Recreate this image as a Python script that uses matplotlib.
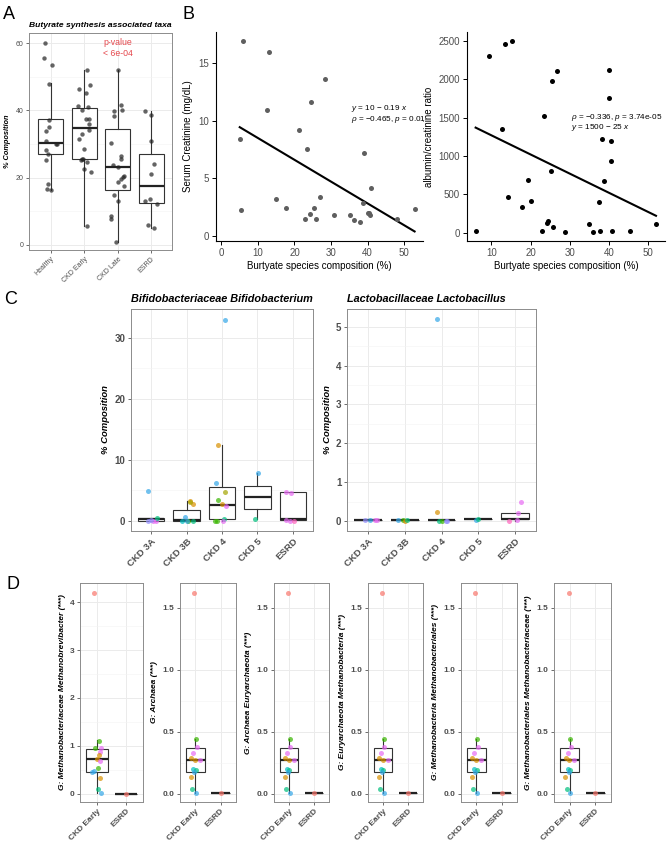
import matplotlib
matplotlib.use('Agg')
import matplotlib.pyplot as plt
from matplotlib.ticker import MultipleLocator
import numpy as np

plt.rcParams['font.family'] = ['Liberation Sans', 'DejaVu Sans']
plt.rcParams['mathtext.fontset'] = 'custom'
plt.rcParams['mathtext.rm'] = 'Liberation Sans'
plt.rcParams['mathtext.it'] = 'Liberation Sans:italic'

# ---------------- data ----------------
# panel A : butyrate taxa, % composition
a_groups = ['Healthy', 'CKD Early', 'CKD Late', 'ESRD']
a_vals = [
    [60.0, 55.5, 53.4, 47.9, 37.2, 35.0, 34.0, 30.8, 29.9, 30.1, 28.3, 27.1, 25.2, 18.1, 16.5, 16.2],
    [51.9, 46.5, 47.5, 45.3, 41.4, 41.0, 40.0, 37.5, 37.5, 36.0, 34.3, 33.0, 31.6, 28.6, 25.5, 25.3,
     25.5, 24.8, 22.5, 21.7, 5.5],
    [52.1, 41.6, 40.2, 39.8, 38.2, 30.4, 23.9, 23.1, 26.5, 25.4, 20.5, 20.1, 19.6, 18.8, 17.5, 14.9,
     13.1, 8.7, 7.6, 1.0],
    [39.9, 38.7, 30.8, 24.1, 21.0, 13.1, 13.7, 12.3, 5.9, 5.0],
]
a_jit = [
    [-0.17, -0.19, 0.05, -0.06, -0.05, -0.05, -0.14, -0.14, 0.15, 0.20, -0.14, -0.09, -0.14, -0.09, -0.12, 0.0],
    [0.07, -0.17, 0.17, 0.04, -0.19, 0.11, -0.08, 0.05, 0.13, 0.15, 0.15, -0.07, -0.16, -0.01, -0.07, -0.10,
     -0.04, 0.09, -0.02, 0.19, 0.09],
    [0.02, 0.11, 0.13, -0.12, -0.12, -0.19, -0.14, 0.0, 0.10, 0.10, 0.19, 0.15, 0.11, 0.0, 0.19, -0.12,
     0.0, -0.19, -0.19, -0.04],
    [-0.19, -0.02, 0.0, 0.08, 0.0, -0.18, -0.03, 0.17, -0.09, 0.08],
]
# box stats: low whisker, q1, median, q3, high whisker
a_box = [
    [16.2, 27.1, 30.3, 37.4, 48.0],
    [5.5, 25.5, 34.9, 40.7, 51.9],
    [1.0, 16.4, 23.1, 34.4, 52.1],
    [5.0, 12.4, 17.4, 27.0, 39.9],
]

# panel B : butyrate % vs serum creatinine
b1_x = [5.8, 13.1, 12.4, 5.0, 5.4, 15.0, 17.6, 21.2, 23.3, 24.5, 28.4, 22.8, 24.2, 25.3, 25.8, 26.9,
        30.8, 35.3, 36.4, 38.0, 38.7, 39.1, 40.2, 40.5, 40.8, 40.9, 48.1, 52.9]
b1_y = [16.87, 15.92, 10.88, 8.41, 2.27, 3.20, 2.45, 9.19, 7.57, 11.63, 13.59, 1.47, 1.93, 2.42, 1.53, 3.37,
        1.87, 1.84, 1.44, 1.24, 2.85, 7.17, 2.04, 1.99, 1.81, 4.18, 1.53, 2.39]
b1_fit = (10.37, -0.188)
# panel B : butyrate % vs albumin/creatinine ratio
b2_x = [6.0, 9.4, 13.6, 15.4, 12.8, 14.3, 17.8, 19.3, 20.0, 22.9, 23.5, 24.1, 24.4, 25.2, 25.5, 25.8,
        26.8, 28.7, 34.9, 35.9, 37.5, 37.7, 38.3, 38.7, 39.9, 39.9, 40.4, 40.5, 40.9, 45.3, 52.0]
b2_y = [17, 2309, 2457, 2500, 1357, 470, 335, 683, 409, 26, 1522, 126, 157, 800, 1978, 78,
        2109, 9, 109, 9, 396, 22, 1226, 678, 2117, 1757, 1200, 930, 17, 17, 117]
b2_fit = (1520, -25.0)

# palette for sample colours in C and D
pal = {'salmon': '#F8766D', 'orange': '#D89000', 'olive': '#A3A500', 'green': '#39B600',
       'teal': '#00BF7D', 'cyan': '#00BFC4', 'blue': '#35A7E8', 'purple': '#9590FF',
       'pink': '#E76BF3', 'magenta': '#FF62BC'}

c_groups = ['CKD 3A', 'CKD 3B', 'CKD 4', 'CKD 5', 'ESRD']
# Bifidobacterium : (value, jitter, colour)
c1_pts = [
    [(4.96, -0.09, 'blue'), (0.0, -0.08, 'purple'), (0.05, 0.05, 'pink'), (0.0, 0.14, 'pink'),
     (0.45, 0.16, 'teal'), (0.1, 0.0, 'purple')],
    [(0.7, -0.04, 'blue'), (0.0, -0.12, 'cyan'), (3.3, 0.11, 'orange'), (2.8, 0.17, 'orange'),
     (3.1, 0.09, 'olive'), (0.0, 0.05, 'green'), (0.0, 0.17, 'teal'), (0.05, 0.0, 'blue')],
    [(33.0, 0.08, 'blue'), (12.4, -0.12, 'orange'), (6.2, -0.18, 'blue'), (4.8, 0.08, 'olive'),
     (3.5, -0.11, 'green'), (2.8, 0.01, 'orange'), (2.5, 0.11, 'pink'), (0.0, -0.20, 'green'),
     (0.0, -0.15, 'green'), (0.3, 0.06, 'teal'), (0.0, 0.04, 'pink')],
    [(7.8, 0.02, 'blue'), (0.27, -0.07, 'teal')],
    [(4.8, -0.19, 'pink'), (4.6, -0.06, 'pink'), (0.2, -0.19, 'pink'), (0.0, -0.08, 'pink'),
     (0.0, 0.02, 'magenta')],
]
c1_box = [
    [0.0, 0.05, 0.3, 0.55, 0.55],
    [0.0, 0.0, 0.1, 1.75, 3.2],
    [0.0, 0.27, 2.7, 5.5, 12.4],
    [0.27, 2.0, 3.9, 5.8, 7.8],
    [0.2, 0.2, 0.25, 4.8, 4.8],
]
# Lactobacillus
c2_pts = [
    [(0.02, -0.08, 'purple'), (0.02, 0.05, 'blue'), (0.02, 0.19, 'pink'), (0.02, 0.24, 'pink')],
    [(0.02, -0.18, 'blue'), (0.03, -0.06, 'green'), (0.0, 0.02, 'orange'), (0.02, 0.06, 'teal')],
    [(5.2, -0.11, 'blue'), (0.23, -0.12, 'orange'), (0.0, -0.06, 'teal'), (0.0, 0.0, 'green'),
     (0.0, 0.12, 'purple'), (0.0, 0.16, 'purple')],
    [(0.03, -0.05, 'blue'), (0.04, 0.0, 'teal')],
    [(0.48, 0.16, 'pink'), (0.2, 0.07, 'pink'), (0.0, -0.16, 'magenta'), (0.03, 0.05, 'pink')],
]
c2_box = [
    [0.02, 0.02, 0.02, 0.02, 0.02],
    [0.02, 0.02, 0.02, 0.02, 0.02],
    [0.02, 0.02, 0.02, 0.02, 0.02],
    [0.04, 0.04, 0.04, 0.04, 0.04],
    [0.0, 0.04, 0.05, 0.2, 0.2],
]

d_groups = ['CKD Early', 'ESRD']
d_titles = ['G: Methanobacteriaceae Methanobrevibacter (***)', 'G: Archaea (***)',
            'G: Archaea Euryarchaeota (***)', 'G: Euryarchaeota Methanobacteria (***)',
            'G: Methanobacteria Methanobacteriales (***)', 'G: Methanobacteriales Methanobacteriaceae (***)']
d1_pts = [(4.19, -0.11, 'salmon'), (1.11, 0.08, 'green'), (0.95, -0.08, 'green'), (0.95, 0.15, 'pink'),
          (0.88, 0.10, 'pink'), (0.81, 0.05, 'orange'), (0.72, 0.01, 'orange'), (0.69, 0.09, 'pink'),
          (0.54, 0.03, 'green'), (0.45, -0.18, 'blue'), (0.47, -0.10, 'blue'), (0.33, 0.11, 'orange'),
          (0.11, 0.04, 'teal'), (0.03, 0.15, 'blue')]
d1_box = [0.03, 0.45, 0.72, 0.93, 1.12]
d_pts = [(1.62, -0.04, 'salmon'), (0.44, 0.03, 'green'), (0.38, 0.05, 'pink'), (0.33, -0.07, 'pink'),
         (0.29, -0.15, 'orange'), (0.27, -0.01, 'orange'), (0.27, 0.19, 'pink'), (0.20, -0.07, 'cyan'),
         (0.19, 0.01, 'teal'), (0.18, -0.04, 'blue'), (0.14, -0.17, 'orange'), (0.04, -0.11, 'teal'),
         (0.01, 0.03, 'blue')]
d_box = [0.01, 0.18, 0.27, 0.37, 0.44]
d_esrd = (0.01, 0.0, 'salmon')
d_esrd_box = [0.01, 0.01, 0.01, 0.01, 0.01]

# ---------------- layout ----------------
W, H = 669, 844
fig = plt.figure(figsize=(W / 100, H / 100), dpi=100)


def px_axes(l, t, r, b):
    return fig.add_axes([l / W, 1 - b / H, (r - l) / W, (b - t) / H])


GRID = '#EBEBEB'
TXT = '#4D4D4D'


def bw_style(ax, tick_size, minor):
    ax.set_facecolor('white')
    for s in ax.spines.values():
        s.set_color('#8C8C8C')
        s.set_linewidth(0.7)
    ax.yaxis.set_minor_locator(MultipleLocator(minor))
    ax.grid(True, which='major', color=GRID, lw=0.7)
    ax.grid(True, which='minor', axis='y', color='#F3F3F3', lw=0.4)
    ax.set_axisbelow(True)
    ax.tick_params(which='major', length=2.5, width=0.6, color='#555555', labelsize=tick_size,
                   labelcolor=TXT, pad=1.5)
    ax.tick_params(which='minor', length=0)


def draw_box(ax, stats, width=0.75):
    bx = []
    for i, s in enumerate(stats):
        bx.append(dict(whislo=s[0], q1=s[1], med=s[2], q3=s[3], whishi=s[4], fliers=[]))
    ax.bxp(bx, positions=range(1, len(bx) + 1), widths=width, showcaps=False, showfliers=False,
           patch_artist=True,
           boxprops=dict(facecolor='white', edgecolor='#333333', lw=0.8),
           whiskerprops=dict(color='#333333', lw=0.8),
           medianprops=dict(color='#222222', lw=1.6), zorder=2)


def rot_labels(ax, labels, size, bold=False):
    ax.set_xticks(range(1, len(labels) + 1))
    ax.set_xticklabels(labels, rotation=45, ha='right', rotation_mode='anchor', fontsize=size,
                       color=TXT, fontweight='bold' if bold else 'normal')


# ---- panel A ----
axA = px_axes(29, 33, 172, 250)
bw_style(axA, 5, 10)
draw_box(axA, a_box)
for i, (vals, jit) in enumerate(zip(a_vals, a_jit)):
    axA.scatter(np.array(jit) + i + 1, vals, s=10, color='#222222', alpha=0.7, lw=0, zorder=3)
axA.set_xlim(0.35, 4.62)
axA.set_ylim(-1.5, 63)
axA.set_yticks([0, 20, 40, 60])
rot_labels(axA, a_groups, 5)
axA.set_title('Butyrate synthesis associated taxa', fontsize=6.1, fontweight='bold', style='italic',
              loc='left', pad=4)
axA.set_ylabel('% Composition', fontsize=5.3, fontweight='bold', style='italic', labelpad=3)
axA.text(0.62, 0.955, 'p-value', transform=axA.transAxes, color='#E5484D', fontsize=6.3,
         ha='center', va='center')
axA.text(0.62, 0.905, '< 6e-04', transform=axA.transAxes, color='#E5484D', fontsize=6.3,
         ha='center', va='center')


def classic_style(ax):
    for s in ['top', 'right']:
        ax.spines[s].set_visible(False)
    for s in ['left', 'bottom']:
        ax.spines[s].set_linewidth(0.8)
    ax.tick_params(length=3, width=0.7, labelsize=7, labelcolor=TXT, pad=2)


# ---- panel B left ----
axB1 = px_axes(216, 32, 423, 241)
classic_style(axB1)
axB1.scatter(b1_x, b1_y, s=13, color='#5F5F5F', lw=0, zorder=3)
xs = np.array([min(b1_x), max(b1_x)])
axB1.plot(xs, b1_fit[0] + b1_fit[1] * xs, color='black', lw=1.5)
axB1.set_xlim(-1.5, 55.2)
axB1.set_ylim(-0.4, 17.65)
axB1.set_xticks([0, 10, 20, 30, 40, 50])
axB1.set_yticks([0, 5, 10, 15])
axB1.set_xlabel('Burtyate species composition (%)', fontsize=7, labelpad=2)
axB1.set_ylabel('Serum Creatinine (mg/dL)', fontsize=7, labelpad=4)
axB1.text(0.652, 0.632, r'$y$ = 10 − 0.19 $x$', transform=axB1.transAxes, fontsize=5.9, va='center')
axB1.text(0.652, 0.58, r'$\rho$ = −0.465, $p$ = 0.01', transform=axB1.transAxes, fontsize=5.9,
          va='center')

# ---- panel B right ----
axB2 = px_axes(467, 32, 665, 241)
classic_style(axB2)
axB2.scatter(b2_x, b2_y, s=13, color='black', lw=0, zorder=3)
xs = np.array([min(b2_x), max(b2_x)])
axB2.plot(xs, b2_fit[0] + b2_fit[1] * xs, color='black', lw=1.5)
axB2.set_xlim(3.8, 54.3)
axB2.set_ylim(-109, 2617)
axB2.set_xticks([10, 20, 30, 40, 50])
axB2.set_yticks([0, 500, 1000, 1500, 2000, 2500])
axB2.set_xlabel('Burtyate species composition (%)', fontsize=7, labelpad=2)
axB2.set_ylabel('albumin/creatinine ratio', fontsize=7, labelpad=3)
axB2.text(0.525, 0.593, r'$\rho$ = −0.336, $p$ = 3.74e-05', transform=axB2.transAxes, fontsize=5.9,
          va='center')
axB2.text(0.525, 0.541, r'$y$ = 1500 − 25 $x$', transform=axB2.transAxes, fontsize=5.9, va='center')


def draw_points(ax, groups_pts, size):
    for i, pts in enumerate(groups_pts):
        for v, j, c in pts:
            ax.scatter(i + 1 + j, v, s=size, color=pal[c], alpha=0.7, lw=0, zorder=3)


# ---- panel C ----
axC1 = px_axes(131, 309, 313, 531)
bw_style(axC1, 7, 5)
draw_box(axC1, c1_box)
draw_points(axC1, c1_pts, 13)
axC1.set_xlim(0.43, 5.57)
axC1.set_ylim(-1.64, 34.75)
axC1.set_yticks([0, 10, 20, 30])
for t in axC1.get_yticklabels():
    t.set_fontweight('bold')
rot_labels(axC1, c_groups, 6.8, bold=True)
axC1.set_title('Bifidobacteriaceae Bifidobacterium', fontsize=7.8, fontweight='bold', style='italic',
               loc='left', pad=5)
axC1.set_ylabel('% Composition', fontsize=6.8, fontweight='bold', style='italic', labelpad=3)

axC2 = px_axes(347, 309, 536, 531)
bw_style(axC2, 7, 0.5)
draw_box(axC2, c2_box)
draw_points(axC2, c2_pts, 13)
axC2.set_xlim(0.43, 5.57)
axC2.set_ylim(-0.26, 5.46)
axC2.set_yticks([0, 1, 2, 3, 4, 5])
for t in axC2.get_yticklabels():
    t.set_fontweight('bold')
rot_labels(axC2, c_groups, 6.8, bold=True)
axC2.set_title('Lactobacillaceae Lactobacillus', fontsize=7.8, fontweight='bold', style='italic',
               loc='left', pad=5)
axC2.set_ylabel('% Composition', fontsize=6.8, fontweight='bold', style='italic', labelpad=3)

# ---- panel D ----
d_edges = [(80, 143), (180, 236), (274, 329), (368, 423), (461, 517), (554, 611)]
for k, (l, r) in enumerate(d_edges):
    ax = px_axes(l, 583, r, 802)
    if k == 0:
        bw_style(ax, 6, 0.5)
        draw_box(ax, [d1_box, d_esrd_box])
        draw_points(ax, [d1_pts, [d_esrd]], 13)
        ax.set_ylim(-0.167, 4.396)
        ax.set_yticks([0, 1, 2, 3, 4])
    else:
        bw_style(ax, 6, 0.25)
        draw_box(ax, [d_box, d_esrd_box])
        draw_points(ax, [d_pts, [d_esrd]], 13)
        ax.set_ylim(-0.065, 1.70)
        ax.set_yticks([0, 0.5, 1.0, 1.5])
        ax.set_yticklabels(['0.0', '0.5', '1.0', '1.5'])
    for t in ax.get_yticklabels():
        t.set_fontweight('bold')
    ax.set_xlim(0.4, 2.6)
    rot_labels(ax, d_groups, 6, bold=True)
    ax.set_ylabel(d_titles[k], fontsize=6.0, fontweight='bold', style='italic', labelpad=3)

# panel letters
for lab, x, y in [('A', 3, 6), ('B', 183, 6), ('C', 4, 291), ('D', 6, 576)]:
    fig.text(x / W, 1 - y / H, lab, fontsize=13, va='top', ha='left')

fig.savefig('out.png', dpi=100)
